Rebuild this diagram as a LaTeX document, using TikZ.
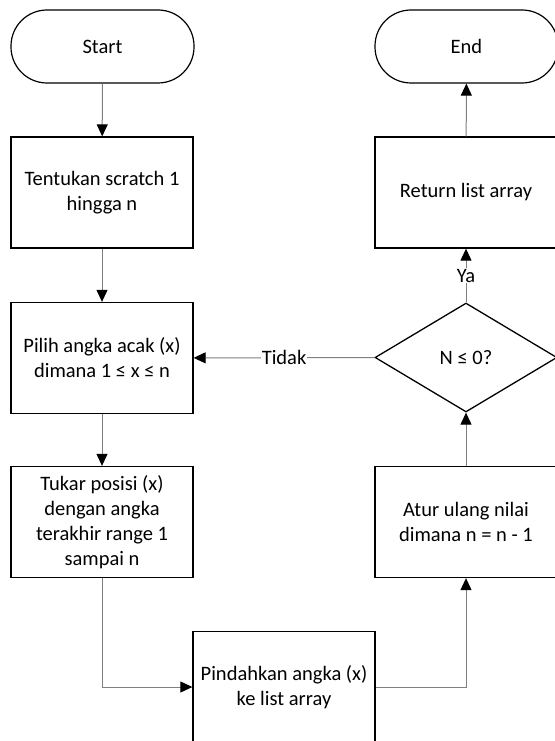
\documentclass[tikz,border=0pt]{standalone}
\usepackage{fontspec}
\setmainfont{Carlito}
\usepackage{tikz}
\usetikzlibrary{arrows.meta,shapes.geometric}

\begin{document}
\begin{tikzpicture}[x=1pt,y=-1pt,->,>={Triangle[length=12pt,width=11pt,color=black]},
  line width=1pt,draw=gray,
  box/.style={rectangle,draw=black,line width=1.3pt,minimum width=182pt,minimum height=111pt,
    align=center,font=\fontsize{20.5}{25}\selectfont,inner sep=2pt},
  term/.style={rectangle,rounded corners=36pt,draw=black,line width=1.2pt,minimum width=183pt,
    minimum height=73pt,font=\fontsize{20.5}{25}\selectfont},
  decide/.style={diamond,draw=black,line width=1.3pt,minimum width=182pt,minimum height=109pt,
    inner sep=0pt,font=\fontsize{20.5}{25}\selectfont},
  lbl/.style={fill=white,inner sep=1pt,font=\fontsize{20.5}{25}\selectfont},
  elbow v/.style={to path={|- (\tikztotarget) \tikztonodes}},
  elbow h/.style={to path={-| (\tikztotarget) \tikztonodes}}]

\useasboundingbox (0,0) rectangle (554,741);

\node[term](S) at (102.5,46.5) {Start};
\node[box](T1) at (102,192.5) {Tentukan scratch 1\\hingga n};
\node[box](T2) at (102,358) {Pilih angka acak (x)\\dimana 1 ≤ x ≤ n};
\node[box](T3) at (102,522) {Tukar posisi (x)\\dengan angka\\terakhir range 1\\sampai n};
\node[box](T4) at (284,687) {Pindahkan angka (x)\\ke list array};
\node[box](T5) at (466,522) {Atur ulang nilai\\dimana n = n - 1};
\node[decide](D) at (466,357.5) {N ≤ 0?};
\node[box](T6) at (466,192.5) {Return list array};
\node[term](E) at (466.5,46.5) {End};

\path
(S) edge (T1)
(T1) edge (T2)
(T2) edge (T3)
(T3) edge[elbow v] (T4)
(T4) edge[elbow h] (T5)
(T5) edge (D)
(D) edge node[lbl]{Tidak} (T2)
(D) edge node[lbl]{Ya} (T6)
(T6) edge (E);

\end{tikzpicture}
\end{document}
